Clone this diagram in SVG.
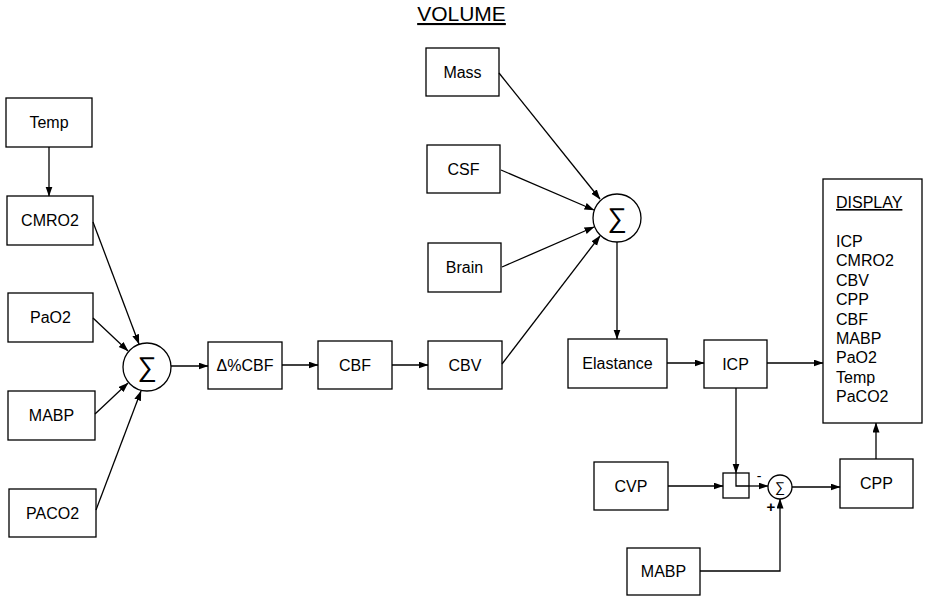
<svg xmlns="http://www.w3.org/2000/svg" width="929" height="599" viewBox="0 0 929 599">
<defs>
<marker id="arr" markerUnits="userSpaceOnUse" markerWidth="10" markerHeight="8" refX="9.5" refY="3.5" orient="auto">
<path d="M0,0 L10,3.5 L0,7 z" fill="#000"/>
</marker>
<style>
.box{fill:#fff;stroke:#000;stroke-width:1.3}
.lbl{font-family:"Liberation Sans",Arial,sans-serif;font-size:16px;fill:#000;text-anchor:middle}
.lst{font-family:"Liberation Sans",Arial,sans-serif;font-size:16px;fill:#000}
.sig{font-family:"Liberation Sans","DejaVu Sans",sans-serif;fill:#000;text-anchor:middle}
.sum{fill:#fff;stroke:#000;stroke-width:1.3}
.c{fill:none;stroke:#000;stroke-width:1.3;marker-end:url(#arr)}
.ln{fill:none;stroke:#000;stroke-width:1.3}
</style>
</defs>
<rect width="929" height="599" fill="#fff"/>
<text x="461.5" y="21" class="lst" style="font-size:21px;text-anchor:middle" text-decoration="underline">VOLUME</text>

<g id="temp"><rect class="box" x="6" y="98" width="86" height="49"/><text class="lbl" x="49" y="128">Temp</text></g>
<g id="cmro2"><rect class="box" x="7" y="196" width="86" height="49"/><text class="lbl" x="50" y="226">CMRO2</text></g>
<g id="pao2"><rect class="box" x="8" y="293" width="85" height="49"/><text class="lbl" x="50.5" y="323">PaO2</text></g>
<g id="mabp1"><rect class="box" x="8" y="391" width="87" height="49"/><text class="lbl" x="51.5" y="421">MABP</text></g>
<g id="paco2"><rect class="box" x="9" y="489" width="87" height="48"/><text class="lbl" x="52.5" y="519">PACO2</text></g>

<g id="sum1"><circle class="sum" cx="147" cy="367" r="24"/><text class="sig" x="147" y="376" style="font-size:27px">∑</text></g>

<g id="dcbf"><rect class="box" x="208" y="342" width="74" height="47"/><text class="lbl" x="245" y="371">Δ%CBF</text></g>
<g id="cbf"><rect class="box" x="318" y="341" width="74" height="48"/><text class="lbl" x="355" y="371">CBF</text></g>
<g id="cbv"><rect class="box" x="428" y="341" width="74" height="48"/><text class="lbl" x="465" y="371">CBV</text></g>

<g id="mass"><rect class="box" x="426" y="48" width="73" height="48"/><text class="lbl" x="462.5" y="78">Mass</text></g>
<g id="csf"><rect class="box" x="427" y="145" width="73" height="48"/><text class="lbl" x="463.5" y="175">CSF</text></g>
<g id="brain"><rect class="box" x="428" y="243" width="73" height="49"/><text class="lbl" x="464.5" y="273">Brain</text></g>

<g id="sum2"><circle class="sum" cx="617" cy="218" r="24"/><text class="sig" x="617" y="227" style="font-size:27px">∑</text></g>

<g id="elastance"><rect class="box" x="568" y="339" width="99" height="49"/><text class="lbl" x="617.5" y="369">Elastance</text></g>
<g id="icp"><rect class="box" x="704" y="340" width="63" height="48"/><text class="lbl" x="735.5" y="370">ICP</text></g>

<g id="display"><rect class="box" x="823" y="179" width="99" height="244"/>
<text class="lst" x="836" y="208" text-decoration="underline">DISPLAY</text>
<text class="lst" x="836" y="247">ICP</text>
<text class="lst" x="836" y="266.4">CMRO2</text>
<text class="lst" x="836" y="285.8">CBV</text>
<text class="lst" x="836" y="305.2">CPP</text>
<text class="lst" x="836" y="324.6">CBF</text>
<text class="lst" x="836" y="344">MABP</text>
<text class="lst" x="836" y="363.4">PaO2</text>
<text class="lst" x="836" y="382.8">Temp</text>
<text class="lst" x="836" y="402.2">PaCO2</text>
</g>

<g id="cvp"><rect class="box" x="594" y="462" width="74" height="48"/><text class="lbl" x="631" y="492">CVP</text></g>
<g id="mabp2"><rect class="box" x="627" y="548" width="73" height="47"/><text class="lbl" x="663.5" y="577">MABP</text></g>
<g id="cpp"><rect class="box" x="840" y="459" width="73" height="49"/><text class="lbl" x="876.5" y="489">CPP</text></g>

<g id="junction"><rect class="box" x="723" y="473" width="26" height="25"/><polyline class="ln" points="736,473 736,486 749,486"/></g>

<g id="sum3"><circle class="sum" cx="780" cy="487" r="12"/><text class="sig" x="780" y="492" style="font-size:14px">∑</text>
<text class="lst" x="759" y="481" style="font-size:14px;text-anchor:middle">-</text>
<text class="lst" x="771" y="512" style="font-size:15px;font-weight:bold;text-anchor:middle">+</text>
</g>

<g id="connectors">
<line class="c" x1="49" y1="147" x2="49" y2="196"/>
<line class="c" x1="93" y1="222" x2="139" y2="344"/>
<line class="c" x1="93" y1="318" x2="128" y2="351"/>
<line class="c" x1="95" y1="414" x2="128" y2="383"/>
<line class="c" x1="96" y1="510" x2="141" y2="391"/>
<line class="c" x1="171" y1="366" x2="208" y2="366"/>
<line class="c" x1="282" y1="365" x2="318" y2="365"/>
<line class="c" x1="392" y1="365" x2="428" y2="365"/>
<line class="c" x1="499" y1="73" x2="600" y2="199"/>
<line class="c" x1="501" y1="170" x2="594" y2="210"/>
<line class="c" x1="502" y1="267" x2="594" y2="227"/>
<line class="c" x1="502" y1="364" x2="600" y2="236"/>
<line class="c" x1="617" y1="242" x2="617" y2="339"/>
<line class="c" x1="667" y1="363" x2="704" y2="363"/>
<line class="c" x1="767" y1="363" x2="823" y2="363"/>
<line class="c" x1="736" y1="388" x2="736" y2="473"/>
<line class="c" x1="668" y1="486" x2="723" y2="486"/>
<line class="c" x1="749" y1="486" x2="768" y2="486"/>
<polyline class="c" points="700,571 780,571 780,499"/>
<line class="c" x1="792" y1="487" x2="840" y2="487"/>
<line class="c" x1="876" y1="459" x2="876" y2="423"/>
</g>
</svg>
